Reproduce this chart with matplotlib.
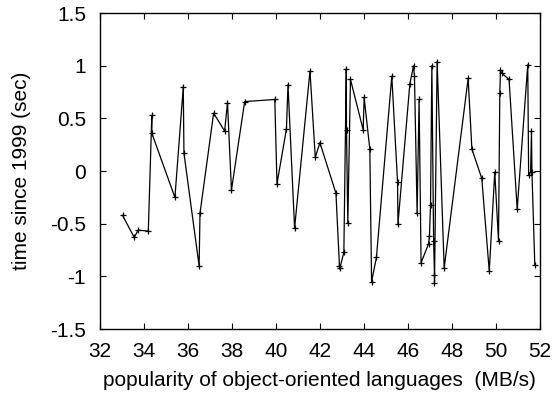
import numpy as np
import matplotlib.pyplot as plt

plt.rcParams['font.family'] = ['Liberation Sans', 'DejaVu Sans']

# values, in drawing order
x_vals = [33.03, 33.56, 33.74, 34.2, 34.36, 34.36, 35.41, 35.79, 35.82, 36.51,
          36.55, 37.17, 37.67, 37.8, 37.98, 38.58, 39.95, 40.05, 40.48, 40.55,
          40.85, 41.55, 41.79, 42.0, 42.73, 42.89, 42.91, 43.09, 43.2, 43.21,
          43.27, 43.39, 43.97, 44.01, 44.27, 44.35, 44.57, 45.27, 45.53, 45.55,
          46.09, 46.26, 46.3, 46.42, 46.51, 46.6, 46.94, 46.98, 47.03, 47.09,
          47.17, 47.21, 47.21, 47.33, 47.65, 48.74, 48.91, 49.36, 49.7, 49.95,
          50.12, 50.18, 50.21, 50.26, 50.6, 50.97, 51.45, 51.49, 51.58, 51.62,
          51.64, 51.77]
y_vals = [-0.42, -0.63, -0.56, -0.57, 0.53, 0.36, -0.25, 0.8, 0.17, -0.9,
          -0.4, 0.55, 0.38, 0.65, -0.18, 0.66, 0.68, -0.12, 0.4, 0.82,
          -0.54, 0.95, 0.13, 0.27, -0.21, -0.9, -0.92, -0.77, 0.97, 0.39,
          -0.49, 0.87, 0.39, 0.7, 0.21, -1.05, -0.82, 0.9, -0.1, -0.5,
          0.83, 1.0, 0.9, -0.4, 0.68, -0.87, -0.69, -0.62, -0.32, 1.0,
          -0.66, -0.99, -1.06, 1.04, -0.92, 0.88, 0.21, -0.07, -0.95, -0.01,
          -0.66, 0.74, 0.96, 0.93, 0.87, -0.36, 1.01, -0.04, -0.01, 0.38,
          -0.01, -0.89]

x_ticks = [32, 34, 36, 38, 40, 42, 44, 46, 48, 50, 52]
y_ticks = [-1.5, -1, -0.5, 0, 0.5, 1, 1.5]
y_labels = ['-1.5', '-1', '-0.5', '0', '0.5', '1', '1.5']

fig = plt.figure(figsize=(5.52, 3.97), dpi=100)
ax = fig.add_axes([0.181, 0.171, 0.797, 0.796])

ax.plot(x_vals, y_vals, color='black', lw=0.9, marker='+', ms=5, mew=0.9)

ax.set_xlim(32, 52)
ax.set_ylim(-1.5, 1.5)
ax.set_xticks(x_ticks)
ax.set_xticklabels([str(t) for t in x_ticks])
ax.set_yticks(y_ticks)
ax.set_yticklabels(y_labels)
ax.tick_params(direction='in', top=True, right=True, length=4, width=0.8,
               labelsize=15)
ax.tick_params(axis='x', pad=9.5)
ax.tick_params(axis='y', pad=10)
for s in ax.spines.values():
    s.set_linewidth(1.0)

ax.set_xlabel('popularity of object-oriented languages  (MB/s)', fontsize=15, labelpad=7)
ax.set_ylabel('time since 1999 (sec)', fontsize=15, labelpad=14)

fig.savefig('out.png', dpi=100)
